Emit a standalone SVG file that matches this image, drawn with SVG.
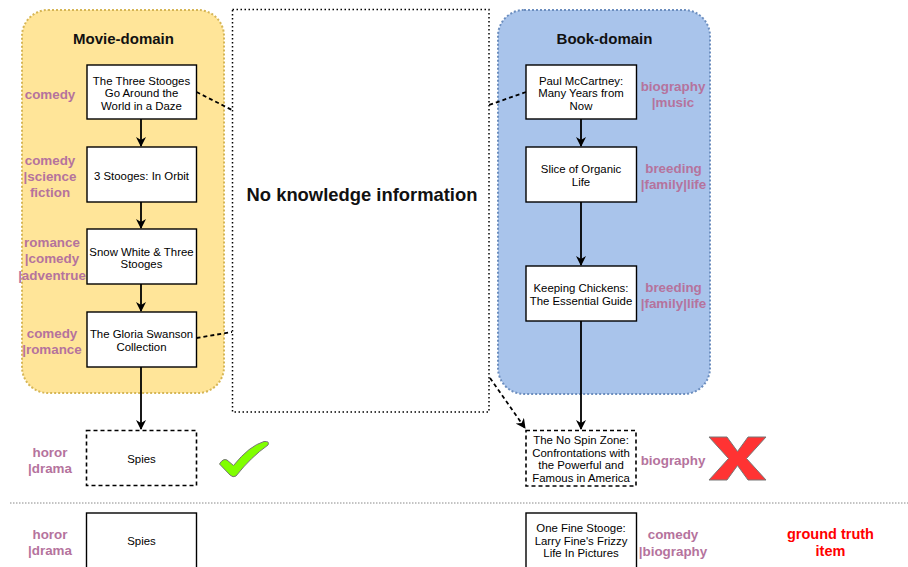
<svg xmlns="http://www.w3.org/2000/svg" width="908" height="567" viewBox="0 0 908 567">
<defs>
<marker id="ah" viewBox="0 0 10 10" refX="9" refY="5" markerWidth="10" markerHeight="10" orient="auto" markerUnits="userSpaceOnUse">
<path d="M0,0 L10,5 L0,10 L3,5 Z" fill="#000"/>
</marker>
<style>
.nt{font-family:"Liberation Sans",Arial,sans-serif;font-size:11.4px;fill:#000;text-anchor:middle}
.lb{font-family:"Liberation Sans",Arial,sans-serif;font-size:13.4px;font-weight:bold;fill:#B5739D;text-anchor:middle}
.tt{font-family:"Liberation Sans",Arial,sans-serif;font-size:15px;font-weight:bold;fill:#111;text-anchor:middle}
.box{fill:#fff;stroke:#000;stroke-width:1.4}
.dbox{fill:#fff;stroke:#000;stroke-width:1.6;stroke-dasharray:4 3}
.arr{stroke:#000;stroke-width:1.8;fill:none;marker-end:url(#ah)}
.dl{stroke:#000;stroke-width:1.8;fill:none;stroke-dasharray:4 3}
</style>
</defs>
<rect width="908" height="567" fill="#fff"/>

<g id="movie-domain">
<rect x="22" y="10" width="202" height="383" rx="26" fill="#FFE599" stroke="#D6B656" stroke-width="2" stroke-dasharray="2 2"/>
<text class="tt" x="123.5" y="43.5">Movie-domain</text>
</g>
<g id="book-domain">
<rect x="498" y="10" width="212" height="384" rx="26" fill="#A9C4EB" stroke="#6C8EBF" stroke-width="2" stroke-dasharray="2 2"/>
<text class="tt" x="604.5" y="43.5">Book-domain</text>
</g>
<g id="no-knowledge">
<rect x="232.5" y="9.5" width="256.5" height="402.5" fill="none" stroke="#000" stroke-width="1.5" stroke-dasharray="1.5 2.5"/>
<text x="362" y="200.5" font-family="'Liberation Sans',Arial,sans-serif" font-size="18.4" font-weight="bold" fill="#111" text-anchor="middle">No knowledge information</text>
</g>

<g id="separator">
<line x1="10" y1="503" x2="908" y2="503" stroke="#888" stroke-width="1" stroke-dasharray="1.5 1.5"/>
</g>

<g id="connectors">
<line class="arr" x1="141" y1="119" x2="141" y2="146"/>
<line class="arr" x1="141" y1="202" x2="141" y2="228"/>
<line class="arr" x1="141" y1="284" x2="141" y2="311"/>
<line class="arr" x1="141" y1="367" x2="141" y2="429"/>
<line class="arr" x1="581" y1="119" x2="581" y2="146"/>
<line class="arr" x1="581" y1="202" x2="581" y2="265"/>
<line class="arr" x1="581" y1="321" x2="581" y2="429"/>
<line class="dl" x1="196.5" y1="92" x2="232" y2="110"/>
<line class="dl" x1="196.5" y1="338" x2="232" y2="332"/>
<line class="dl" x1="526" y1="92" x2="489" y2="105"/>
<line class="dl" x1="490" y1="378" x2="525" y2="428" marker-end="url(#ah)"/>
</g>

<g id="m1">
<rect class="box" x="87" y="65" width="109.5" height="54"/>
<text class="nt" x="141.5" y="84.7">The Three Stooges</text>
<text class="nt" x="141.5" y="97.3">Go Around the</text>
<text class="nt" x="141.5" y="110">World in a Daze</text>
</g>
<g id="m2">
<rect class="box" x="87" y="147" width="109.5" height="55"/>
<text class="nt" x="141.5" y="179.7">3 Stooges: In Orbit</text>
</g>
<g id="m3">
<rect class="box" x="87" y="229" width="109.5" height="55"/>
<text class="nt" x="141.5" y="255.7">Snow White &amp; Three</text>
<text class="nt" x="141.5" y="268">Stooges</text>
</g>
<g id="m4">
<rect class="box" x="87" y="312" width="109.5" height="55"/>
<text class="nt" x="141.5" y="338">The Gloria Swanson</text>
<text class="nt" x="141.5" y="350.7">Collection</text>
</g>
<g id="m5">
<rect class="dbox" x="86.5" y="430.5" width="110" height="55"/>
<text class="nt" x="141.5" y="462.5">Spies</text>
</g>
<g id="m6">
<rect class="box" x="86.5" y="513" width="110" height="60" stroke-width="2"/>
<text class="nt" x="141.5" y="545">Spies</text>
</g>

<g id="b1">
<rect class="box" x="526" y="65" width="110.5" height="54"/>
<text class="nt" x="581" y="84.7">Paul McCartney:</text>
<text class="nt" x="581" y="97.3">Many Years from</text>
<text class="nt" x="581" y="110">Now</text>
</g>
<g id="b2">
<rect class="box" x="526" y="147" width="110.5" height="55"/>
<text class="nt" x="581" y="173.3">Slice of Organic</text>
<text class="nt" x="581" y="186">Life</text>
</g>
<g id="b3">
<rect class="box" x="526" y="266" width="110.5" height="55"/>
<text class="nt" x="581" y="292.3">Keeping Chickens:</text>
<text class="nt" x="581" y="304.7">The Essential Guide</text>
</g>
<g id="b4">
<rect class="dbox" x="526" y="430.5" width="110" height="55.5"/>
<text class="nt" x="581" y="444">The No Spin Zone:</text>
<text class="nt" x="581" y="456.5">Confrontations with</text>
<text class="nt" x="581" y="469">the Powerful and</text>
<text class="nt" x="581" y="481.5">Famous in America</text>
</g>
<g id="b5">
<rect class="box" x="526" y="513" width="110.5" height="60" stroke-width="2"/>
<text class="nt" x="581" y="532">One Fine Stooge:</text>
<text class="nt" x="581" y="544.7">Larry Fine's Frizzy</text>
<text class="nt" x="581" y="557.3">Life In Pictures</text>
</g>

<g id="labels-movie">
<text class="lb" x="50" y="98.5">comedy</text>
<text class="lb" x="50" y="164.5">comedy</text>
<text class="lb" x="50" y="181">|science</text>
<text class="lb" x="50" y="197">fiction</text>
<text class="lb" x="52" y="246.5">romance</text>
<text class="lb" x="52" y="263">|comedy</text>
<text class="lb" x="52" y="279.5">|adventrue</text>
<text class="lb" x="52" y="337.5">comedy</text>
<text class="lb" x="52" y="354">|romance</text>
<text class="lb" x="50" y="456.5">horor</text>
<text class="lb" x="50" y="473">|drama</text>
<text class="lb" x="50" y="538.5">horor</text>
<text class="lb" x="50" y="555">|drama</text>
</g>
<g id="labels-book">
<text class="lb" x="673" y="90.5">biography</text>
<text class="lb" x="673" y="106.5">|music</text>
<text class="lb" x="673.5" y="172.5">breeding</text>
<text class="lb" x="673.5" y="189">|family|life</text>
<text class="lb" x="673.5" y="291.5">breeding</text>
<text class="lb" x="673.5" y="308">|family|life</text>
<text class="lb" x="673" y="465">biography</text>
<text class="lb" x="673" y="539">comedy</text>
<text class="lb" x="673" y="555.5">|biography</text>
</g>
<g id="ground-truth-label">
<text x="830.5" y="538.5" font-family="'Liberation Sans',Arial,sans-serif" font-size="14.5" font-weight="bold" fill="#FF0000" text-anchor="middle">ground truth</text>
<text x="830.5" y="556" font-family="'Liberation Sans',Arial,sans-serif" font-size="14.5" font-weight="bold" fill="#FF0000" text-anchor="middle">item</text>
</g>

<g id="checkmark">
<path d="M219.5,464 Q223,458 227,460 L233.5,465.5 Q249,446 264,441.5 Q270,441 268,445 Q251,457 236,476 Q233,478 230,475 Z" fill="#80FF00" stroke="#777" stroke-width="1"/>
</g>
<g id="cross">
<path d="M709,437 L727,437 L737.5,451.5 L748,437 L766,437 L746.5,458.5 L766,480 L748,480 L737.5,465.5 L727,480 L709,480 L728.5,458.5 Z" fill="#FF3333" stroke="#777" stroke-width="1"/>
</g>
</svg>
